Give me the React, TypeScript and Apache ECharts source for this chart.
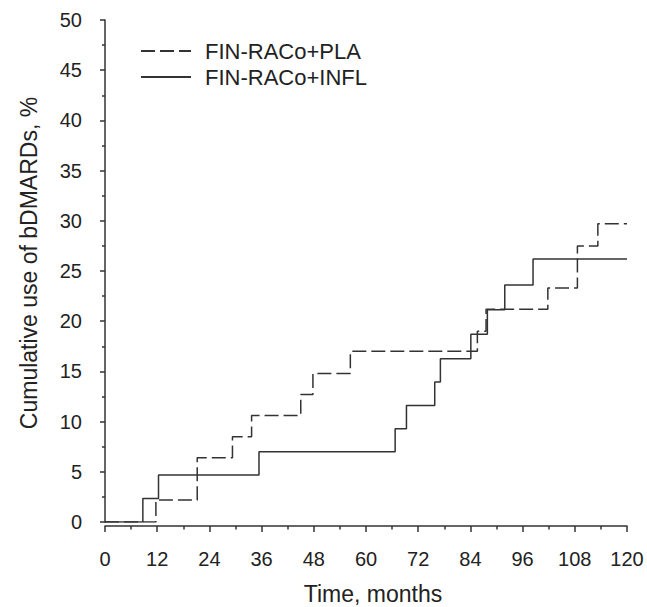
import React, { useEffect, useRef } from "react";
import * as echarts from "echarts";

const seriesNames = ["FIN-RACo+PLA", "FIN-RACo+INFL"];
const plaTimes = [0, 11.7, 21.2, 29.3, 33.7, 45.0, 47.8, 56.4, 85.6, 87.6, 101.8, 108.6, 113.3, 120];
const plaValues = [0, 2.2, 6.4, 8.5, 10.6, 12.7, 14.8, 17.0, 19.0, 21.2, 23.3, 27.5, 29.7, 29.7];
const inflTimes = [0, 8.7, 12.3, 35.4, 66.7, 69.3, 75.8, 77.1, 84.1, 87.9, 91.9, 98.4, 120];
const inflValues = [0, 2.35, 4.67, 7.0, 9.3, 11.6, 13.95, 16.25, 18.7, 21.15, 23.6, 26.2, 26.2];
const xAxisTitle = "Time, months";
const yAxisTitle = "Cumulative use of bDMARDs, %";

const FONT = "Liberation Sans, Arial, sans-serif";
const INK = "#333";

export default function App() {
  const ref = useRef<HTMLDivElement>(null);
  useEffect(() => {
    if (!ref.current) return;
    const chart = echarts.init(ref.current, null, { renderer: "svg" });
    const pla = plaTimes.map((t, i) => [t, plaValues[i]]);
    const infl = inflTimes.map((t, i) => [t, inflValues[i]]);
    chart.setOption({
      animation: false,
      backgroundColor: "#fff",
      grid: { left: 105, right: 20, top: 20, bottom: 85, containLabel: false },
      legend: {
        orient: "vertical",
        left: 140,
        top: 40,
        padding: 0,
        itemWidth: 50,
        itemHeight: 14,
        itemGap: 4,
        data: seriesNames,
        itemStyle: { opacity: 0 },
        textStyle: { fontSize: 22, fontFamily: FONT, color: "#222", lineHeight: 22, padding: [0, 0, 0, 9] },
      },
      xAxis: {
        type: "value",
        min: 0,
        max: 120,
        interval: 12,
        offset: 4,
        axisLine: { show: true, onZero: false, lineStyle: { color: INK, width: 1.5 } },
        axisTick: { show: true, length: 6, lineStyle: { color: INK, width: 1.5 } },
        minorTick: { show: true, splitNumber: 2, length: 3.5, lineStyle: { color: INK, width: 1.5 } },
        axisLabel: { fontSize: 20, fontFamily: FONT, color: "#222", margin: 23 },
        splitLine: { show: false },
      },
      yAxis: {
        type: "value",
        min: 0,
        max: 50,
        interval: 5,
        offset: 5,
        axisLine: { show: true, lineStyle: { color: INK, width: 1.5 } },
        axisTick: { show: true, length: 5, lineStyle: { color: INK, width: 1.5 } },
        minorTick: { show: true, splitNumber: 2, length: 3, lineStyle: { color: INK, width: 1.5 } },
        axisLabel: { fontSize: 20, fontFamily: FONT, color: "#222", margin: 18 },
        splitLine: { show: false },
      },
      graphic: [
        {
          type: "text",
          x: 373,
          y: 594,
          style: { text: xAxisTitle, fontSize: 23, fontFamily: FONT, fill: "#222", textAlign: "center", textVerticalAlign: "middle" },
        },
        {
          type: "text",
          x: 29,
          y: 263,
          rotation: Math.PI / 2,
          style: { text: yAxisTitle, fontSize: 23, fontFamily: FONT, fill: "#222", textAlign: "center", textVerticalAlign: "middle" },
        },
      ],
      series: [
        {
          name: seriesNames[0],
          type: "line",
          step: "end",
          data: pla,
          symbol: "none",
          lineStyle: { color: INK, width: 1.5, type: [14, 5] },
          itemStyle: { color: INK },
        },
        {
          name: seriesNames[1],
          type: "line",
          step: "end",
          data: infl,
          symbol: "none",
          lineStyle: { color: INK, width: 1.5, type: "solid" },
          itemStyle: { color: INK },
        },
      ],
    });
    return () => chart.dispose();
  }, []);
  return <div ref={ref} style={{ width: 647, height: 607, position: "absolute", left: 0, top: 0 }} />;
}
